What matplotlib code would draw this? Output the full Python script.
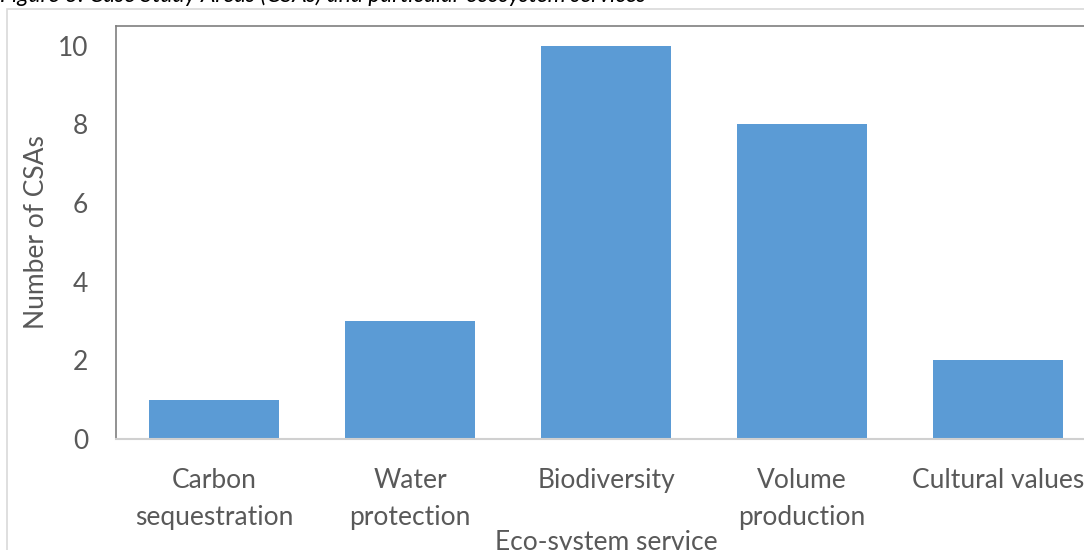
import matplotlib
matplotlib.use("Agg")
import matplotlib.pyplot as plt
from matplotlib.patches import Rectangle

plt.rcParams['font.family'] = ['Lato', 'DejaVu Sans']

# ecosystem services and the number of case study areas for each
services = ["Carbon\nsequestration", "Water\nprotection", "Biodiversity",
            "Volume\nproduction", "Cultural values"]
n_csas = [1, 3, 10, 8, 2]
y_ticks = [0, 2, 4, 6, 8, 10]

text_grey = "#595959"
bar_blue = "#5b9bd5"

fig = plt.figure(figsize=(10.84, 5.5), dpi=100)

# outer chart border (runs off the right and bottom edges)
fig.patches.append(Rectangle((7 / 1084, -0.1), 1.2, 1 - 9 / 550 + 0.1,
                             transform=fig.transFigure, fill=False,
                             edgecolor="#d9d9d9", linewidth=1.2))

# caption above the chart, mostly cut off
fig.text(0.0, 1 - 1.5 / 550, "Figure 3: Case Study Areas (CSAs) and particular ecosystem services",
         ha="left", va="baseline", fontsize=16.5, style="italic", color="black")

ax = fig.add_axes([116 / 1084, 1 - 439 / 550, 980 / 1084, 413 / 550])
x = range(len(services))
ax.bar(x, n_csas, width=0.663, color=bar_blue, zorder=2)

ax.set_xlim(-0.5, 4.5)
ax.set_ylim(0, 10.5)
ax.set_yticks(y_ticks)
ax.set_xticks(list(x))
ax.set_xticklabels(services, linespacing=1.6)

for side in ["left", "top"]:
    ax.spines[side].set_color("#7f7f7f")
    ax.spines[side].set_linewidth(1.2)
ax.spines["bottom"].set_color("#d0d0d0")
ax.spines["bottom"].set_linewidth(1.5)
ax.spines["right"].set_visible(False)

ax.tick_params(axis="both", length=0, labelsize=19, labelcolor=text_grey)
ax.tick_params(axis="y", pad=20)
ax.tick_params(axis="x", pad=21)

ax.set_ylabel("Number of CSAs", fontsize=19, color=text_grey, labelpad=6)
ax.set_xlabel("Eco-system service", fontsize=19, color=text_grey, labelpad=0)

fig.savefig("out.png", dpi=100)
